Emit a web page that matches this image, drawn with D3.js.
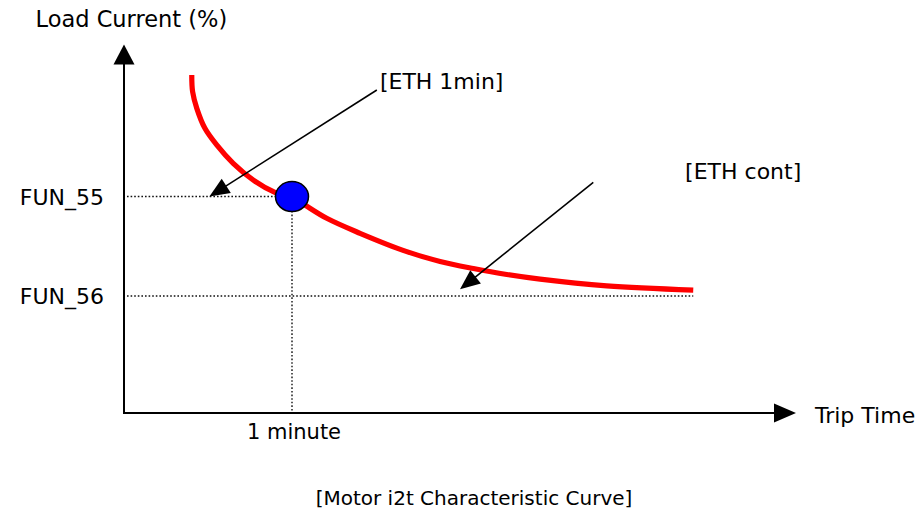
<!DOCTYPE html>
<html>
<head>
<meta charset="utf-8">
<script src="https://cdn.jsdelivr.net/npm/d3@7"></script>
<style>
  html, body { margin: 0; padding: 0; background: #fff; }
  svg { display: block; font-family: "DejaVu Sans", Verdana, sans-serif; }
</style>
</head>
<body>
<svg id="chart" width="923" height="513"></svg>
<script>
// ---- data (time in seconds, load current in %) ----
const curveTime = [24.2, 24.5, 26.0, 28.9, 33.1, 39.0, 46.2, 53.9, 60, 72.4, 84.3, 101.0, 112.9, 124.8, 136.7, 148.6, 172.4, 203.3];
const curveLoad = [288.9, 274.6, 260.4, 243.3, 229.1, 213.4, 199.1, 188.6, 184.0, 166.4, 153.6, 137.9, 129.5, 123.5, 118.4, 114.4, 108.7, 105.1];

const yTickLabels = ["FUN_55", "FUN_56"];
const yTickValues = [185, 100];
const xTickLabels = ["1 minute"];
const xTickValues = [60];

const pointTime = [60];
const pointLoad = [185];

const annotationLabels = ["[ETH 1min]", "[ETH cont]"];
const annotationFromTime = [90.3, 167.6];
const annotationFromLoad = [276.1, 197.2];
const annotationToTime = [30.5, 120];
const annotationToLoad = [185, 105.7];
const annotationTextTime = [91.4, 200.4];
const annotationTextLoad = [276.9, 199.6];

const xAxisTitle = "Trip Time";
const yAxisTitle = "Load Current (%)";
const chartTitle = "[Motor i2t Characteristic Curve]";
const xMax = 240, yMax = 315;

// ---- scales ----
const x = d3.scaleLinear().domain([0, 60]).range([124, 292]);
const y = d3.scaleLinear().domain([0, 100]).range([413, 296]);

const svg = d3.select("#chart");

function arrowHead(g, x1, y1, x2, y2, len, half) {
  const dx = x2 - x1, dy = y2 - y1, L = Math.hypot(dx, dy);
  const ux = dx / L, uy = dy / L;
  const bx = x2 - ux * len, by = y2 - uy * len;
  const px = -uy * half, py = ux * half;
  g.append("path")
    .attr("d", `M${x2},${y2}L${bx + px},${by + py}L${bx - px},${by - py}Z`)
    .attr("fill", "#000");
  return [bx + ux * 2, by + uy * 2];
}

// ---- dotted guide lines ----
const guides = svg.append("g").attr("stroke", "#111").attr("stroke-width", 1.4).attr("stroke-dasharray", "1.6,2");
guides.append("line")
  .attr("x1", x(0) + 3).attr("x2", x(pointTime[0]))
  .attr("y1", y(yTickValues[0])).attr("y2", y(yTickValues[0]));
guides.append("line")
  .attr("x1", x(0) + 3).attr("x2", x(curveTime[curveTime.length - 1]))
  .attr("y1", y(yTickValues[1])).attr("y2", y(yTickValues[1]));
guides.append("line")
  .attr("x1", x(xTickValues[0])).attr("x2", x(xTickValues[0]))
  .attr("y1", y(pointLoad[0])).attr("y2", y(0));

// ---- curve ----
const line = d3.line()
  .x((d, i) => x(curveTime[i]))
  .y((d, i) => y(curveLoad[i]))
  .curve(d3.curveCatmullRom.alpha(0.5));
svg.append("path")
  .datum(curveTime)
  .attr("d", line)
  .attr("fill", "none")
  .attr("stroke", "#ff0000")
  .attr("stroke-width", 5.2);

// ---- point ----
svg.selectAll("ellipse.pt")
  .data(pointTime)
  .enter().append("ellipse")
  .attr("class", "pt")
  .attr("cx", (d) => x(d))
  .attr("cy", (d, i) => y(pointLoad[i]))
  .attr("rx", 16.5).attr("ry", 15)
  .attr("fill", "#0000ff")
  .attr("stroke", "#000")
  .attr("stroke-width", 1.5);

// ---- annotation arrows ----
annotationLabels.forEach((lab, i) => {
  const g = svg.append("g");
  const x1 = x(annotationFromTime[i]), y1 = y(annotationFromLoad[i]);
  const x2 = x(annotationToTime[i]), y2 = y(annotationToLoad[i]);
  const b = arrowHead(g, x1, y1, x2, y2, 20, 8.5);
  g.append("line").attr("x1", x1).attr("y1", y1).attr("x2", b[0]).attr("y2", b[1])
    .attr("stroke", "#000").attr("stroke-width", 1.6);
  svg.append("text")
    .attr("x", x(annotationTextTime[i])).attr("y", y(annotationTextLoad[i]))
    .attr("font-size", "22px").attr("fill", "#000")
    .text(lab);
});

// ---- axes ----
const axes = svg.append("g");
const xe = arrowHead(axes, x(0), y(0), x(xMax), y(0), 22, 9.5);
axes.append("line").attr("x1", x(0) - 1).attr("y1", y(0)).attr("x2", xe[0]).attr("y2", y(0))
  .attr("stroke", "#000").attr("stroke-width", 2);
const ye = arrowHead(axes, x(0), y(0), x(0), y(yMax), 20, 10.5);
axes.append("line").attr("x1", x(0)).attr("y1", y(0) + 1).attr("x2", x(0)).attr("y2", ye[1])
  .attr("stroke", "#000").attr("stroke-width", 2);

// tick labels
svg.selectAll("text.ytick")
  .data(yTickLabels)
  .enter().append("text")
  .attr("class", "ytick")
  .attr("x", x(0) - 20)
  .attr("y", (d, i) => y(yTickValues[i]) + 8)
  .attr("text-anchor", "end")
  .attr("font-size", "22px").attr("fill", "#000")
  .text((d) => d);
svg.selectAll("text.xtick")
  .data(xTickLabels)
  .enter().append("text")
  .attr("class", "xtick")
  .attr("x", (d, i) => x(xTickValues[i]) + 2)
  .attr("y", y(0) + 26)
  .attr("text-anchor", "middle")
  .attr("font-size", "21px").attr("fill", "#000")
  .text((d) => d);

// axis titles
svg.append("text").attr("x", 35.5).attr("y", 27).attr("font-size", "22.5px").attr("fill", "#000").text(yAxisTitle);
svg.append("text").attr("x", 815).attr("y", 423).attr("font-size", "22px").attr("fill", "#000").text(xAxisTitle);
svg.append("text").attr("x", 474).attr("y", 505).attr("text-anchor", "middle").attr("font-size", "20px").attr("fill", "#000").text(chartTitle);
</script>
</body>
</html>
